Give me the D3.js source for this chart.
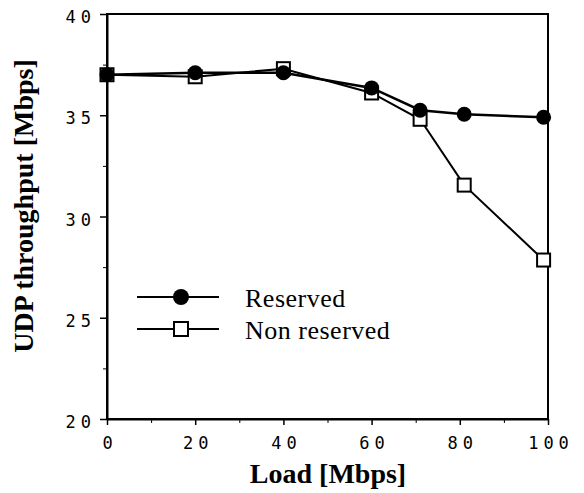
<!DOCTYPE html>
<html>
<head>
<meta charset="utf-8">
<script src="https://cdn.jsdelivr.net/npm/d3@7"></script>
<style>
  body { margin: 0; background: #fff; }
  .tick text { font-family: "DejaVu Sans Mono", monospace; font-size: 17px; letter-spacing: 5px; fill: #000; }
</style>
</head>
<body>
<div id="chart"></div>
<script>
const loads = [0, 20, 40, 60, 71, 81, 99];
const reserved = [37.0, 37.1, 37.1, 36.35, 35.25, 35.05, 34.9];
const nonReserved = [37.0, 36.9, 37.3, 36.1, 34.8, 31.55, 27.85];
const xTicks = [0, 20, 40, 60, 80, 100];
const xMinor = [10, 30, 50, 70, 90];
const yTicks = [20, 25, 30, 35, 40];
const yMinor = [22.5, 27.5, 32.5, 37.5];
const seriesNames = ['Reserved', 'Non reserved'];

const width = 584, height = 493;
const margin = { top: 14, right: 36, bottom: 74, left: 107 };

const svg = d3.select('#chart').append('svg')
  .attr('width', width)
  .attr('height', height);

const x = d3.scaleLinear().domain([0, 100]).range([margin.left, width - margin.right]);
const y = d3.scaleLinear().domain([20, 40]).range([height - margin.bottom, margin.top]);

// cadre
svg.append('rect')
  .attr('x', x(0)).attr('y', y(40))
  .attr('width', x(100) - x(0)).attr('height', y(20) - y(40))
  .attr('fill', 'none').attr('stroke', '#000').attr('stroke-width', 2);

// axe x
const gx = svg.append('g')
  .attr('transform', `translate(0,${y(20)})`)
  .call(d3.axisBottom(x).tickValues(xTicks).tickSize(6).tickSizeOuter(0).tickPadding(12));
gx.select('.domain').attr('stroke-width', 2);
gx.selectAll('.tick line').attr('stroke-width', 1.5);
gx.selectAll('.tick text').attr('dx', '2.5px');
svg.append('g')
  .attr('transform', `translate(0,${y(20)})`)
  .call(d3.axisBottom(x).tickValues(xMinor).tickSize(4).tickSizeOuter(0).tickFormat(''))
  .call(g => g.select('.domain').remove());

// axe y
const gy = svg.append('g')
  .attr('transform', `translate(${x(0)},0)`)
  .call(d3.axisLeft(y).tickValues(yTicks).tickSize(7).tickSizeOuter(0).tickPadding(4));
gy.select('.domain').attr('stroke-width', 2);
gy.selectAll('.tick line').attr('stroke-width', 1.5);
gy.selectAll('.tick text').attr('dy', '0.5em');
svg.append('g')
  .attr('transform', `translate(${x(0)},0)`)
  .call(d3.axisLeft(y).tickValues(yMinor).tickSize(4).tickSizeOuter(0).tickFormat(''))
  .call(g => g.select('.domain').remove());

// titres
svg.append('text')
  .attr('x', 328)
  .attr('y', 483)
  .attr('text-anchor', 'middle')
  .attr('font-family', '"Liberation Serif", serif')
  .attr('font-weight', 'bold')
  .attr('font-size', 28)
  .text('Load [Mbps]');

svg.append('text')
  .attr('transform', 'translate(33,206) rotate(-90)')
  .attr('text-anchor', 'middle')
  .attr('font-family', '"Liberation Serif", serif')
  .attr('font-weight', 'bold')
  .attr('font-size', 28)
  .text('UDP throughput [Mbps]');

const line = d3.line().x((d, i) => x(loads[i])).y(d => y(d));

svg.append('path').datum(nonReserved)
  .attr('fill', 'none').attr('stroke', '#000').attr('stroke-width', 2)
  .attr('d', line);
svg.append('path').datum(reserved)
  .attr('fill', 'none').attr('stroke', '#000').attr('stroke-width', 2.5)
  .attr('d', line);

const sq = 13;
svg.selectAll('rect.sq').data(nonReserved).join('rect')
  .attr('class', 'sq')
  .attr('x', (d, i) => x(loads[i]) - sq / 2)
  .attr('y', d => y(d) - sq / 2)
  .attr('width', sq).attr('height', sq)
  .attr('fill', '#fff').attr('stroke', '#000').attr('stroke-width', 2);

svg.selectAll('circle.res').data(reserved).join('circle')
  .attr('class', 'res')
  .attr('cx', (d, i) => x(loads[i]))
  .attr('cy', d => y(d))
  .attr('r', 7.5)
  .attr('fill', '#000');

// légende
const legend = svg.append('g');
seriesNames.forEach((name, i) => {
  const ly = 297 + i * 32;
  legend.append('line')
    .attr('x1', 137).attr('x2', 219).attr('y1', ly).attr('y2', ly)
    .attr('stroke', '#000').attr('stroke-width', 2);
  if (i === 0) {
    legend.append('circle').attr('cx', 181).attr('cy', ly).attr('r', 8).attr('fill', '#000');
  } else {
    legend.append('rect').attr('x', 181 - 7).attr('y', ly - 7).attr('width', 14).attr('height', 14)
      .attr('fill', '#fff').attr('stroke', '#000').attr('stroke-width', 2);
  }
  legend.append('text')
    .attr('x', 245).attr('y', ly + 10)
    .attr('font-family', '"Liberation Serif", serif')
    .attr('font-size', 26)
    .attr('letter-spacing', 0.5)
    .text(name);
});
</script>
</body>
</html>
